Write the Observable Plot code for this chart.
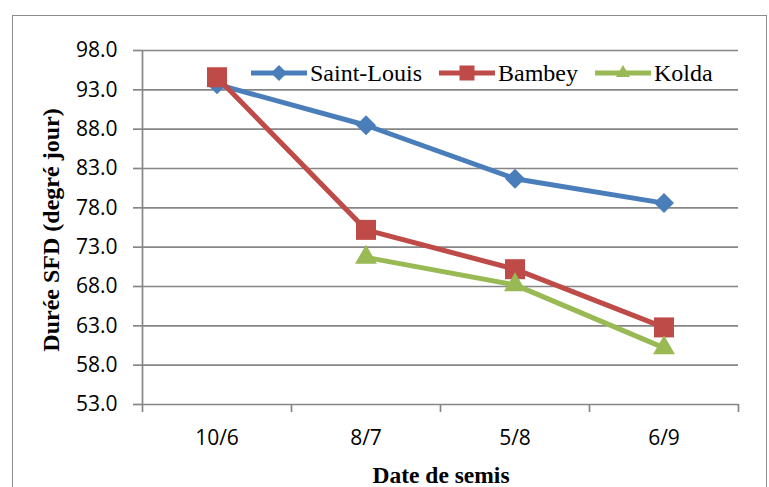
<!DOCTYPE html>
<html>
<head>
<meta charset="utf-8">
<script src="https://cdn.jsdelivr.net/npm/d3@7"></script>
<script src="https://cdn.jsdelivr.net/npm/@observablehq/plot@0.6"></script>
<style>
  body { margin: 0; background: #fff; }
  #chart { position: relative; width: 769px; height: 487px; overflow: hidden; background: #fff; }
  #frame { position: absolute; left: 12px; top: 15px; width: 755px; height: 520px;
           border: 1.5px solid #8c8c8c; box-sizing: border-box; }
  #plot { position: absolute; left: 0; top: 0; }
  #legend { position: absolute; left: 251px; top: 61px; display: flex; align-items: center;
            font-family: "Liberation Serif", "Times New Roman", serif; font-size: 24px; color: #000; line-height: 24px; }
  #legend .item { display: flex; align-items: center; margin-right: 17px; }
  #legend svg { display: block; overflow: visible; }
  #legend span { margin-left: 3px; }
  .title { position: absolute; font-family: "Liberation Serif", "Times New Roman", serif; font-weight: bold;
           color: #000; white-space: nowrap; }
  #ytitle { left: 51px; top: 230px; font-size: 24px; transform: translate(-50%, -50%) rotate(-90deg); }
  #xtitle { left: 441px; top: 475px; font-size: 23.5px; transform: translate(-50%, -50%); }
</style>
</head>
<body>
<div id="chart">
  <div id="frame"></div>
  <div id="plot"></div>
  <div id="legend"></div>
  <div class="title" id="ytitle">Durée SFD (degré jour)</div>
  <div class="title" id="xtitle">Date de semis</div>
</div>
<script>
// Sowing dates (categories) and SFD duration per site, in degree-days
const dates = ["10/6", "8/7", "5/8", "6/9"];
const saintLouis = [93.7, 88.5, 81.7, 78.6];
const bambey = [94.6, 75.2, 70.2, 62.8];
const kolda = [null, 71.7, 68.2, 60.2];
const yTicks = [53, 58, 63, 68, 73, 78, 83, 88, 93, 98];

const seriesNames = ["Saint-Louis", "Bambey", "Kolda"];
const seriesValues = [saintLouis, bambey, kolda];

// Styling per series
const seriesColors = ["#4a7ebb", "#be4b48", "#98b954"];
const plotSymbols = ["diamond2", "square", "triangle"];
const d3Symbols = [d3.symbolDiamond2, d3.symbolSquare, d3.symbolTriangle];
const markerArea = [255, 400, 208];   // symbol area on the chart
const legendArea = [163, 225, 85];    // symbol area in the legend
const gridColor = "#868686";

// Long table: one row per (site, date) with a value; categories sit at band centres
const rows = [];
seriesValues.forEach((vals, s) => vals.forEach((v, i) => {
  if (v != null) rows.push({series: seriesNames[s], date: dates[i], x: i + 0.5, value: v});
}));

const chart = Plot.plot({
  width: 769,
  height: 487,
  marginLeft: 142,
  marginRight: 31,
  marginTop: 50,
  marginBottom: 83,
  style: {fontFamily: "'Open Sans', sans-serif", fontSize: "21px", color: "#000", background: "transparent", overflow: "visible"},
  x: {type: "linear", domain: [0, dates.length], axis: null, label: null},
  y: {domain: [yTicks[0], yTicks[yTicks.length - 1]], axis: null, label: null},
  color: {domain: seriesNames, range: seriesColors},
  marks: [
    Plot.gridY(yTicks, {stroke: gridColor, strokeOpacity: 1, strokeWidth: 1.7}),
    Plot.ruleX([0], {stroke: gridColor, strokeWidth: 1.7}),
    Plot.axisY(yTicks, {tickSize: 9, tickPadding: 16, tickFormat: d => d.toFixed(1), label: null,
                        stroke: gridColor, strokeWidth: 1.7, fill: "#000"}),
    // band boundary ticks
    Plot.axisX(d3.range(dates.length + 1), {tickSize: 8, tickFormat: () => "", label: null,
                                            stroke: gridColor, strokeWidth: 1.7}),
    // category labels
    Plot.axisX(dates.map((d, i) => i + 0.5), {tickSize: 0, tickPadding: 26, fill: "#000", label: null,
                                              tickFormat: v => dates[Math.floor(v)]}),
    Plot.line(rows, {x: "x", y: "value", z: "series", stroke: "series", strokeWidth: 5}),
    ...seriesNames.map((name, s) => Plot.dot(rows.filter(r => r.series === name), {
      x: "x", y: "value", fill: seriesColors[s], symbol: plotSymbols[s],
      r: Math.sqrt(markerArea[s] / Math.PI)
    }))
  ]
});
document.getElementById("plot").appendChild(chart);

// Legend: line swatch with marker, then series name
const legend = d3.select("#legend");
seriesNames.forEach((name, s) => {
  const item = legend.append("div").attr("class", "item");
  const svg = item.append("svg").attr("width", 56).attr("height", 20);
  svg.append("line").attr("x1", 0).attr("x2", 56).attr("y1", 10).attr("y2", 10)
     .attr("stroke", seriesColors[s]).attr("stroke-width", 5);
  svg.append("path").attr("transform", "translate(28,10)")
     .attr("d", d3.symbol(d3Symbols[s], legendArea[s])()).attr("fill", seriesColors[s]);
  item.append("span").text(name);
});
</script>
</body>
</html>
